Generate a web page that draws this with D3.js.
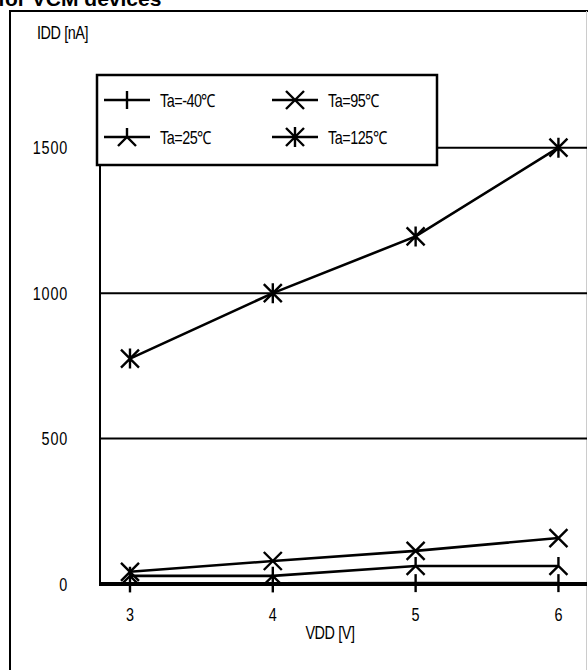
<!DOCTYPE html>
<html><head><meta charset="utf-8">
<script src="https://cdn.jsdelivr.net/npm/d3@7"></script>
<style>
body{margin:0;background:#fff;overflow:hidden}
text{font-family:"Liberation Sans",Arial,sans-serif;fill:#000}
</style>
</head><body>
<svg id="c" width="588" height="670"></svg>
<script>
// ---- data ----
const vdd = [3, 4, 5, 6];
const seriesNames = ["Ta=-40℃", "Ta=25℃", "Ta=95℃", "Ta=125℃"];
const idd_m40 = [2, 2, 3, 3];
const idd_25  = [28, 28, 62, 62];
const idd_95  = [42, 79, 114, 158];
const idd_125 = [775, 1000, 1195, 1500];
const yTicks = [0, 500, 1000, 1500];
const xTicks = [3, 4, 5, 6];
const yTitle = "IDD [nA]";
const xTitle = "VDD [V]";
const title = "for VCM devices";

const series = [
  {name: seriesNames[0], values: idd_m40, marker: "plus"},
  {name: seriesNames[1], values: idd_25,  marker: "tri"},
  {name: seriesNames[2], values: idd_95,  marker: "x"},
  {name: seriesNames[3], values: idd_125, marker: "star"}
];

const svg = d3.select("#c");
const L = 100, R = 587, T = 75, B = 584;
const x = d3.scaleLinear().domain([2.79, 6.2]).range([L, R]);
const y = d3.scaleLinear().domain([0, 1750]).range([B, T]);
const SX = 0.8; // horizontal condensation of the narrow font

function ctext(parent, tx, ty, str, anchor, size, ls) {
  return parent.append("text")
    .attr("transform", `translate(${tx},${ty}) scale(${SX},1)`)
    .attr("text-anchor", anchor || "start")
    .style("font-size", (size || 18) + "px")
    .style("letter-spacing", (ls || 0) + "px")
    .text(str);
}

// title (clipped at top, as in the reference)
svg.append("text").attr("x", -2).attr("y", 6)
  .style("font-weight", "bold").style("font-size", "21px").text(title);

// outer frame
svg.append("rect").attr("x", 10).attr("y", 11).attr("width", 600).attr("height", 700)
  .attr("fill", "none").attr("stroke", "#000").attr("stroke-width", 2);

// right edge of plot (faint)
svg.append("line").attr("x1", 586.5).attr("x2", 586.5).attr("y1", 11).attr("y2", 670)
  .attr("stroke", "#ccc").attr("stroke-width", 1);

// gridlines
svg.append("g").selectAll("line").data(yTicks.filter(d => d > 0)).join("line")
  .attr("x1", L).attr("x2", R).attr("y1", d => y(d)).attr("y2", d => y(d))
  .attr("stroke", "#000").attr("stroke-width", 2);

// left axis line
svg.append("line").attr("x1", L).attr("x2", L).attr("y1", T).attr("y2", B)
  .attr("stroke", "#000").attr("stroke-width", 2);
// x axis (thick)
svg.append("line").attr("x1", L - 1).attr("x2", R).attr("y1", y(0)).attr("y2", y(0))
  .attr("stroke", "#000").attr("stroke-width", 4);

// y tick labels
const gy = svg.append("g");
yTicks.forEach(d => ctext(gy, 68, y(d) + 6.5, d, "end", 18, 1));
// x tick labels
const gx = svg.append("g");
xTicks.forEach(d => ctext(gx, x(d), 621, d, "middle", 18, 0));

// axis titles
ctext(svg, 37, 39, yTitle, "start", 18, -0.5);
ctext(svg, 330, 639, xTitle, "middle", 18, -0.5);

// marker paths
const s = 9;
function markerPath(type) {
  switch (type) {
    case "plus": return `M0,${-s}L0,${s}`;
    case "tri": return `M0,${-s}L0,0M${-s},${s}L0,0L${s},${s}`;
    case "x": return `M${-s},${-s}L${s},${s}M${-s},${s}L${s},${-s}`;
    case "star": return `M${-s},${-s}L${s},${s}M${-s},${s}L${s},${-s}M0,${-s - 1}L0,${s + 1}`;
  }
}

const line = d3.line().x((d, i) => x(vdd[i])).y(d => y(d));
const g = svg.append("g");
series.forEach(sr => {
  g.append("path").attr("d", line(sr.values)).attr("fill", "none")
    .attr("stroke", "#000").attr("stroke-width", 2.6);
  g.selectAll(null).data(sr.values).join("path")
    .attr("transform", (d, i) => `translate(${x(vdd[i])},${y(d)})`)
    .attr("d", markerPath(sr.marker)).attr("fill", "none")
    .attr("stroke", "#000").attr("stroke-width", 2.4);
});

// legend
const lg = svg.append("g");
lg.append("rect").attr("x", 97).attr("y", 75).attr("width", 340).attr("height", 90)
  .attr("fill", "#fff").attr("stroke", "#000").attr("stroke-width", 2.5);
const legPos = [[104, 100], [104, 137], [272, 100], [272, 137]];
series.forEach((sr, i) => {
  const [lx, ly] = legPos[i];
  lg.append("line").attr("x1", lx).attr("x2", lx + 46).attr("y1", ly).attr("y2", ly)
    .attr("stroke", "#000").attr("stroke-width", 2.4);
  lg.append("path").attr("transform", `translate(${lx + 23},${ly})`)
    .attr("d", markerPath(sr.marker)).attr("fill", "none")
    .attr("stroke", "#000").attr("stroke-width", 2.4);
  ctext(lg, lx + 56, ly + 6.5, sr.name, "start", 18, -0.6);
});
</script>
</body></html>
